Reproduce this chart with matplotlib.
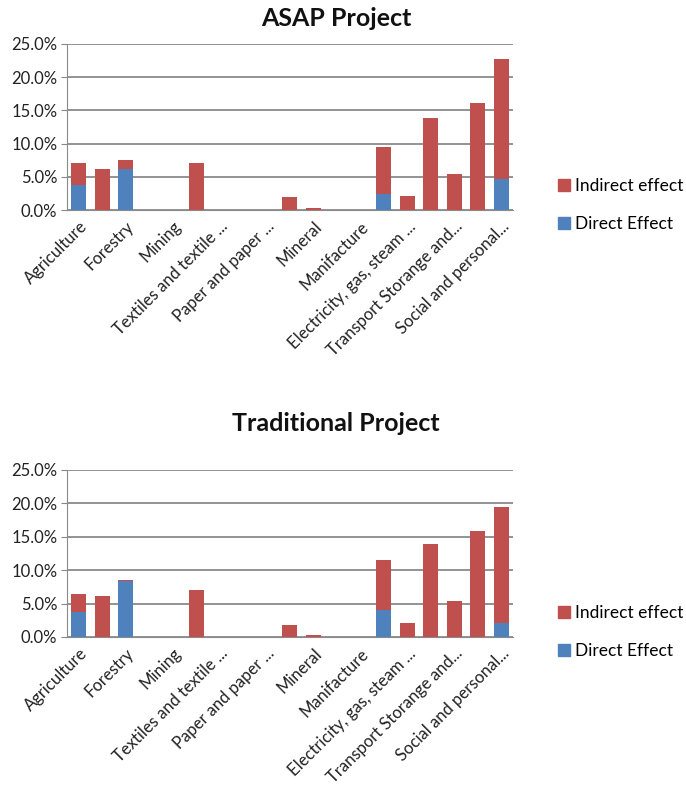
import matplotlib
matplotlib.use("Agg")
import matplotlib.pyplot as plt
import numpy as np
from matplotlib.patches import Patch

plt.rcParams['font.family'] = ['Lato', 'DejaVu Sans']

# 19 sector slots, only every other one is labelled on the axis
n_sectors = 19
tick_labels = ['Agriculture', 'Forestry', 'Mining', 'Textiles and textile ...',
               'Paper and paper ...', 'Mineral', 'Manifacture',
               'Electricity, gas, steam ...', 'Transport Storange and...',
               'Social and personal...']

# values in percent (total height of stack and direct part)
asap_total = [7.05, 6.15, 7.5, 0, 0, 7.05, 0, 0, 0, 1.9, 0.35, 0, 0, 9.5, 2.1, 13.8, 5.45, 16.05, 22.7]
asap_direct = [3.7, 0, 6.15, 0, 0, 0, 0, 0, 0, 0, 0, 0, 0, 2.35, 0, 0, 0, 0, 4.6]

trad_total = [6.5, 6.1, 8.55, 0, 0, 7.0, 0, 0, 0, 1.85, 0.3, 0, 0, 11.45, 2.05, 13.9, 5.4, 15.9, 19.5]
trad_direct = [3.8, 0, 8.35, 0, 0, 0, 0, 0, 0, 0, 0, 0, 0, 4.0, 0, 0, 0, 0, 2.05]

red = '#C0504D'
blue = '#4F81BD'

fig = plt.figure(figsize=(6.86, 7.97), dpi=100)


def draw_panel(rect, total, direct, title, title_y, legend_y):
    ax = fig.add_axes(rect)
    x = np.arange(n_sectors)
    direct = np.array(direct)
    indirect = np.array(total) - direct
    ax.bar(x, direct, width=0.64, color=blue, zorder=3)
    ax.bar(x, indirect, bottom=direct, width=0.64, color=red, zorder=3)
    ax.set_xlim(-0.5, n_sectors - 0.5)
    ax.set_ylim(0, 25)
    ax.set_yticks(np.arange(0, 26, 5))
    ax.set_yticklabels(['%.1f%%' % v for v in np.arange(0, 26, 5)], fontsize=12,
                       color='#222222')
    ax.set_xticks(np.arange(0, n_sectors, 2))
    ax.set_xticklabels(tick_labels, rotation=45, ha='right', rotation_mode='anchor',
                       fontsize=12, color='#222222')
    ax.tick_params(axis='x', length=0, pad=6)
    ax.tick_params(axis='y', length=4, color='#888888', pad=3)
    ax.grid(axis='y', color='#8a8a8a', linewidth=1.3, zorder=0)
    for s in ['top', 'right']:
        ax.spines[s].set_visible(False)
    ax.spines['left'].set_color('#8a8a8a')
    ax.spines['bottom'].set_color('#8a8a8a')
    fig.text(0.49, title_y, title, ha='center', va='center', fontsize=18,
             fontweight='bold', color='#111111')
    handles = [Patch(color=red, label='Indirect effect'),
               Patch(color=blue, label='Direct Effect')]
    fig.legend(handles=handles, loc='center left', bbox_to_anchor=(0.79, legend_y),
               frameon=False, fontsize=12.5, handlelength=0.7, handleheight=0.7,
               handletextpad=0.3, labelspacing=1.3)
    return ax


draw_panel([0.0977, 0.7365, 0.650, 0.2083], asap_total, asap_direct,
           'ASAP Project', 1 - 18 / 797, 1 - 205 / 797)
draw_panel([0.0977, 0.2008, 0.650, 0.2095], trad_total, trad_direct,
           'Traditional Project', 1 - 424 / 797, 1 - 632 / 797)

plt.savefig('out.png', dpi=100)
